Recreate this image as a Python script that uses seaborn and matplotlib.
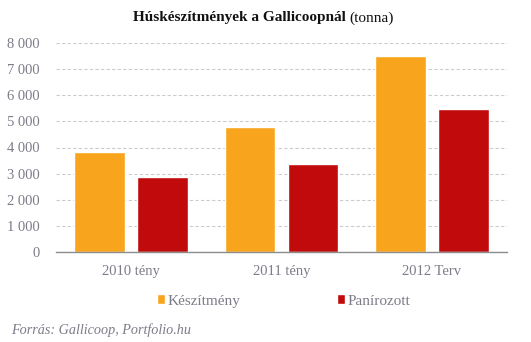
import matplotlib
matplotlib.use("Agg")
import matplotlib.pyplot as plt
import seaborn as sns
import pandas as pd

categories = ["2010 tény", "2011 tény", "2012 Terv"]
series_names = ["Készítmény", "Panírozott"]
keszitmeny = [3830, 4780, 7490]
panirozott = [2870, 3370, 5470]
yticks = [0, 1000, 2000, 3000, 4000, 5000, 6000, 7000, 8000]
ytick_labels = ["0", "1 000", "2 000", "3 000", "4 000", "5 000", "6 000", "7 000", "8 000"]

colors = ["#F8A51D", "#C00A0B"]
txt_gray = "#7d7b88"
fam = ["Liberation Serif", "DejaVu Serif"]

df = pd.DataFrame({
    "cat": categories * 2,
    "series": [series_names[0]] * 3 + [series_names[1]] * 3,
    "value": keszitmeny + panirozott,
})

sns.set_theme(style="white")
plt.rcParams["font.family"] = fam

fig = plt.figure(figsize=(5.31, 3.42), dpi=100)
ax = fig.add_axes([56/531, 1-252.3/342, (507-56)/531, (252.3-42.7)/342])

sns.barplot(data=df, x="cat", y="value", hue="series", palette=colors,
            width=0.84, gap=0.2, saturation=1, ax=ax, legend=True)

ax.set_ylim(0, 8000)
ax.set_xlim(-0.5, 2.5)
ax.set_yticks(yticks)
ax.set_yticklabels(ytick_labels)
ax.yaxis.grid(True, linestyle=(0, (3, 2)), color="#cccccc", linewidth=0.8)
ax.set_axisbelow(True)
for s in ["top", "right", "left"]:
    ax.spines[s].set_visible(False)
ax.spines["bottom"].set_color("#8c8c8c")
ax.spines["bottom"].set_linewidth(1.0)
ax.tick_params(axis="both", length=0, colors=txt_gray, labelsize=10.5)
ax.tick_params(axis="y", pad=12)
ax.tick_params(axis="x", pad=9)
ax.set_xlabel("")
ax.set_ylabel("")

handles, labels = ax.get_legend_handles_labels()
ax.get_legend().remove()
for h, l, x in zip(handles, labels, [157/531, 337/531]):
    fig.legend([h], [l], loc="center left", bbox_to_anchor=(x, 1-301/342),
               frameon=False, handlelength=0.55, handleheight=0.55,
               handletextpad=0.15, borderpad=0, borderaxespad=0,
               prop={"size": 11, "family": fam}, labelcolor=txt_gray)

fig.text(346/531, 1-18/342, "Húskészítmények a Gallicoopnál", ha="right", va="center",
         fontsize=11, fontweight="bold", color="#111111")
fig.text(349/531, 1-18/342, "(tonna)", ha="left", va="center",
         fontsize=11, color="#111111")
fig.text(11/531, 1-330/342, "Forrás: Gallicoop, Portfolio.hu", ha="left", va="center",
         fontsize=10.2, style="italic", color=txt_gray)

fig.savefig("out.png", dpi=100)
